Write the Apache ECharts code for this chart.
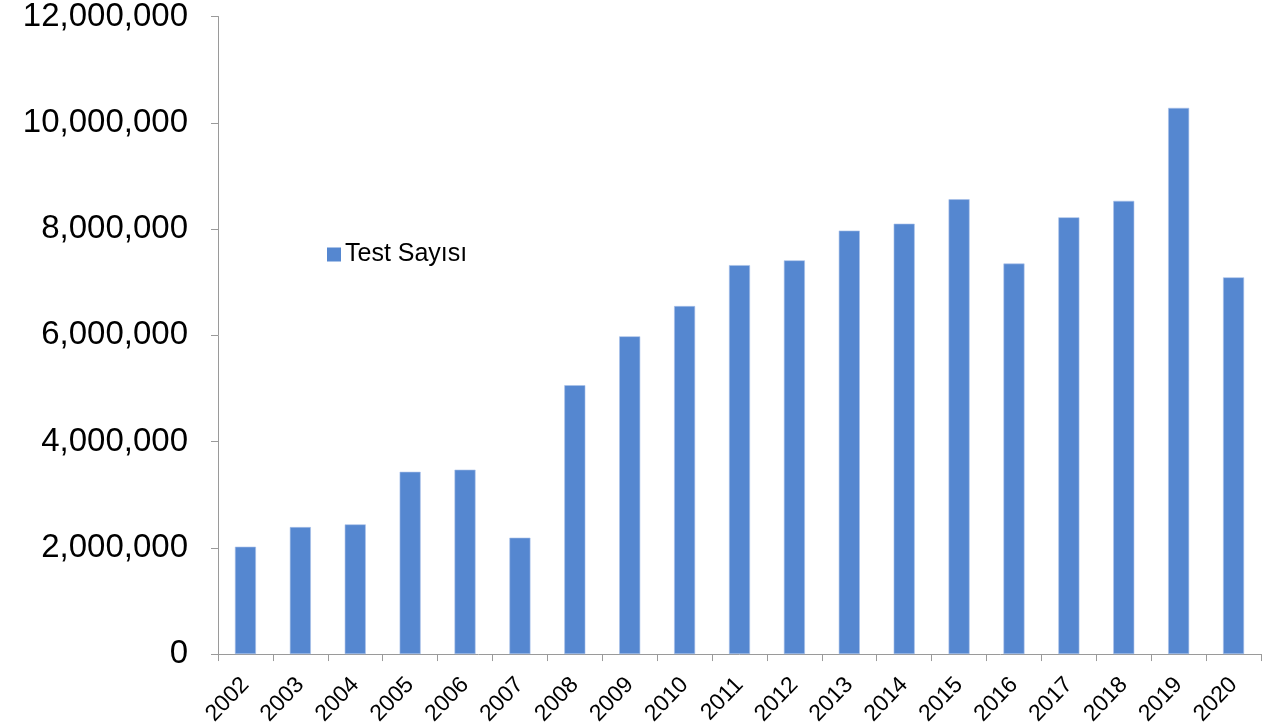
<!DOCTYPE html>
<html>
<head>
<meta charset="utf-8">
<script src="https://cdn.jsdelivr.net/npm/echarts@6/dist/echarts.min.js"></script>
<style>
html,body{margin:0;padding:0;background:#fff;}
#chart{width:1269px;height:728px;}
</style>
</head>
<body>
<div id="chart"></div>
<script>
const categories = ['2002','2003','2004','2005','2006','2007','2008','2009','2010','2011','2012','2013','2014','2015','2016','2017','2018','2019','2020'];
const seriesName = 'Test Sayısı';
const testValues = [2020000, 2390000, 2440000, 3430000, 3470000, 2190000, 5060000, 5980000, 6550000, 7320000, 7410000, 7970000, 8100000, 8560000, 7350000, 8220000, 8530000, 10280000, 7090000];
const yTicks = {min: 0, max: 12000000, interval: 2000000};

const chart = echarts.init(document.getElementById('chart'), null, {renderer: 'canvas'});
const fmt = v => String(v).replace(/\B(?=(\d{3})+(?!\d))/g, ',');
chart.setOption({
  animation: false,
  backgroundColor: '#ffffff',
  grid: {left: 218, right: 8, top: 16, bottom: 72, containLabel: false},
  legend: {
    left: 327, top: 242, padding: 0,
    itemWidth: 14, itemHeight: 14, itemGap: 4,
    icon: 'rect',
    itemStyle: {borderWidth: 0},
    textStyle: {fontFamily: 'Liberation Sans', fontSize: 25, color: '#000', padding: [6,0,0,-1]},
    data: [seriesName]
  },
  xAxis: {
    type: 'category',
    data: categories,
    axisLine: {lineStyle: {color: '#9a9a9a', width: 1}},
    axisTick: {show: true, length: 7, alignWithLabel: false, lineStyle: {color: '#9a9a9a'}},
    axisLabel: {rotate: 46, margin: 27, fontFamily: 'Liberation Sans', fontSize: 23, color: '#000', interval: 0}
  },
  yAxis: {
    type: 'value',
    min: yTicks.min, max: yTicks.max, interval: yTicks.interval,
    axisLine: {show: true, lineStyle: {color: '#9a9a9a', width: 1}},
    axisTick: {show: true, length: 7, lineStyle: {color: '#9a9a9a'}},
    splitLine: {show: false},
    axisLabel: {margin: 30, fontFamily: 'Liberation Sans', fontSize: 33, color: '#000', formatter: fmt}
  },
  series: [{
    name: seriesName,
    type: 'bar',
    data: testValues,
    barWidth: 21,
    itemStyle: {color: '#5587d0', borderColor: '#a9c1ea', borderWidth: 0.6}
  }]
});
</script>
</body>
</html>
